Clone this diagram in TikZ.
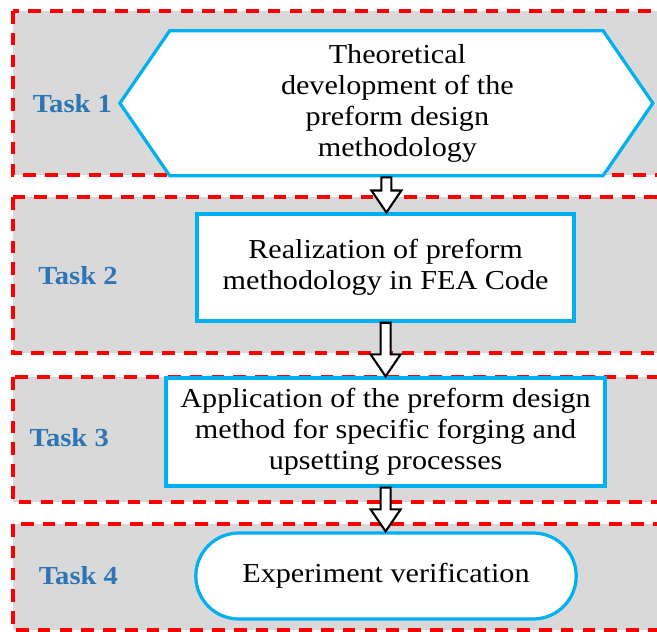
\documentclass[tikz,border=0pt]{standalone}
\usepackage{fontspec}
\setmainfont{Liberation Serif}[FakeStretch=1.1]
\usetikzlibrary{shapes.symbols, shapes.misc, calc}

\definecolor{boxgray}{RGB}{217,217,217}
\definecolor{taskred}{RGB}{255,0,0}
\definecolor{edgeblue}{RGB}{0,176,240}
\definecolor{taskblue}{RGB}{46,117,182}

\tikzset{
	taskbox/.style={fill=boxgray, draw=taskred, line width=2.8pt, dash pattern=on 9pt off 6.5pt},
	tasklabel/.style={text=taskblue, font=\fontsize{18.5}{22}\selectfont\bfseries},
	stage/.style={draw=edgeblue, fill=white, line width=2.3pt, align=center, inner sep=2pt, font=\fontsize{19.5}{22}\selectfont},
	hollow/.style={draw=black, fill=white, line width=1.5pt,
		to path={let \p1=(\tikztostart), \p2=(\tikztotarget) in
			(\x1-0.125cm,\y1) -- (\x1-0.125cm,\y2+0.55cm) -- (\x1-0.375cm,\y2+0.55cm) -- (\x1,\y2)
			-- (\x1+0.375cm,\y2+0.55cm) -- (\x1+0.125cm,\y2+0.55cm) -- (\x1+0.125cm,\y1) -- cycle}}
}

\begin{document}
\begin{tikzpicture}
	\useasboundingbox (0,0) rectangle (16.425,-15.8);
	\clip (0,0) rectangle (16.425,-15.8);
	
	%%% Рамки задач
	\draw[taskbox] (0.325,-0.275) rectangle (17,-4.375);
	\draw[taskbox] (0.325,-4.925) rectangle (17,-8.825);
	\draw[taskbox] (0.325,-9.425) rectangle (17,-12.55);
	\draw[taskbox] (0.325,-13.1) rectangle (17,-15.75);
	
	%%% Подписи задач
	\node[tasklabel] (t1) at (1.81,-2.58) {Task 1};
	\node[tasklabel] (t2) at (1.95,-6.88) {Task 2};
	\node[tasklabel] (t3) at (1.73,-10.95) {Task 3};
	\node[tasklabel] (t4) at (1.96,-14.38) {Task 4};
	
	%%% Этапы
	\node[stage, signal, signal to=west and east, signal pointer angle=111,
		minimum width=13.325cm, minimum height=3.625cm] (theory) at (9.66,-2.58)
		{\hspace*{0.55cm}Theoretical\\\hspace*{0.55cm}development of the\\\hspace*{0.55cm}preform design\\\hspace*{0.55cm}methodology};
	\node[stage, minimum width=9.425cm, minimum height=2.675cm] (realize) at (9.64,-6.69)
		{Realization of preform\\methodology in FEA Code};
	\node[stage, minimum width=10.975cm, minimum height=2.7cm] (apply) at (9.64,-10.8)
		{Application of the preform design\\method for specific forging and\\upsetting processes};
	\node[stage, rounded rectangle, minimum width=9.65cm, minimum height=2.15cm] (verify) at (9.65,-14.4)
		{Experiment verification};
	
	%%% Стрелки
	\draw[hollow] (theory.south) to (realize.north);
	\draw[hollow] (realize.south) to (apply.north);
	\draw[hollow] (apply.south) to (verify.north);
\end{tikzpicture}
\end{document}
